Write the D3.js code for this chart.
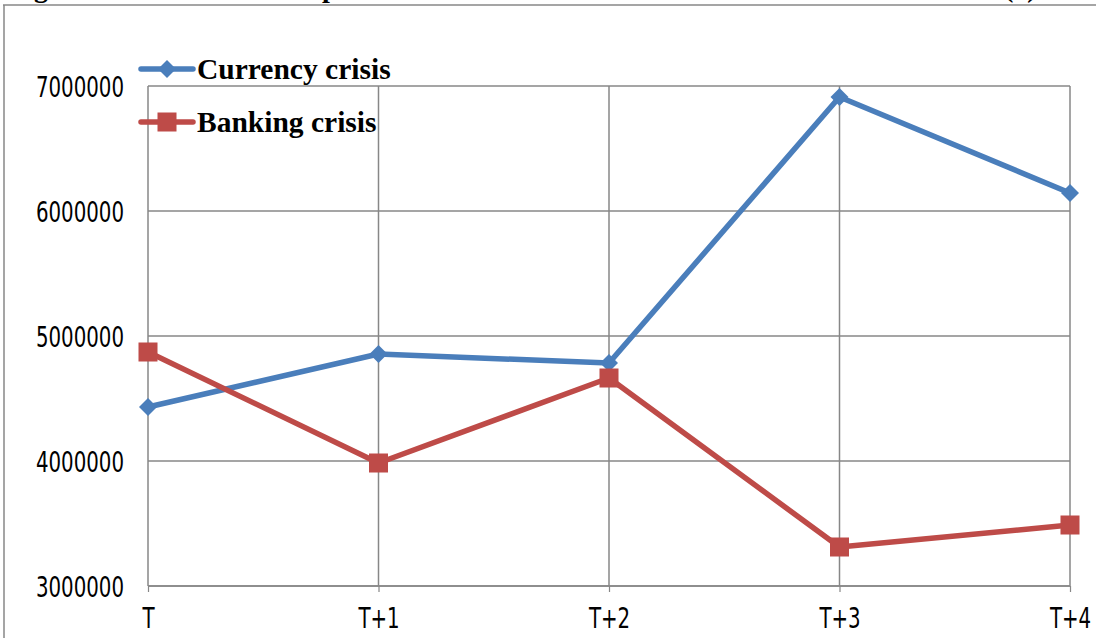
<!DOCTYPE html>
<html><head><meta charset="utf-8">
<script src="https://cdn.jsdelivr.net/npm/d3@7"></script>
<style>
html,body{margin:0;padding:0;background:#fff;}
svg{display:block;}
</style></head>
<body>
<svg id="chart" width="1096" height="638"></svg>
<script>
const categories = ["T", "T+1", "T+2", "T+3", "T+4"];
const currencyCrisis = [4432000, 4856000, 4784000, 6912000, 6144000];
const bankingCrisis = [4872000, 3984000, 4664000, 3312000, 3488000];
const yTicks = [3000000, 4000000, 5000000, 6000000, 7000000];
const seriesNames = ["Currency crisis", "Banking crisis"];

const svg = d3.select("#chart");
const W = 1096, H = 638;
const gridColor = "#878787";
const blue = "#4A7EBB", red = "#BE4B48";
const tickFont = "'Liberation Sans Narrow', 'Arial Narrow', 'DejaVu Sans Condensed', sans-serif";

// title fragments (cut off at the top of the picture, as in the reference)
const titleFrag = svg.append("g").attr("font-family", "'Liberation Serif', 'Times New Roman', serif")
  .attr("font-weight", "bold").attr("font-size", 28).attr("fill", "#000");
titleFrag.append("text").attr("x", 34).attr("y", -3).text("g");
titleFrag.append("text").attr("x", 322).attr("y", -3).text("p");
titleFrag.append("text").attr("x", 1004).attr("y", -3).text("(€)");

// outer frame
svg.append("line").attr("x1", 3).attr("x2", W).attr("y1", 5).attr("y2", 5)
  .attr("stroke", gridColor).attr("stroke-width", 1.5);
svg.append("line").attr("x1", 4).attr("x2", 4).attr("y1", 5).attr("y2", H)
  .attr("stroke", gridColor).attr("stroke-width", 1.5);

const x = d3.scalePoint().domain(categories).range([148, 1070]);
const y = d3.scaleLinear().domain([3000000, 7000000]).range([586, 86]);

// horizontal gridlines
svg.append("g").selectAll("line").data(yTicks).join("line")
  .attr("x1", 148).attr("x2", 1070)
  .attr("y1", d => y(d)).attr("y2", d => y(d))
  .attr("stroke", gridColor).attr("stroke-width", 1.5);
// vertical gridlines
svg.append("g").selectAll("line").data(categories).join("line")
  .attr("x1", d => x(d)).attr("x2", d => x(d))
  .attr("y1", y(7000000)).attr("y2", y(3000000))
  .attr("stroke", gridColor).attr("stroke-width", 1.5);

// axes
const yAxis = d3.axisLeft(y).tickValues(yTicks).tickSize(0).tickPadding(24).tickFormat(d3.format("d"));
const gy = svg.append("g").attr("transform", "translate(148,0)").call(yAxis);
gy.select(".domain").remove();
gy.selectAll("text").attr("font-family", tickFont)
  .attr("font-size", 22).attr("fill", "#000").attr("dy", "0.36em")
  .attr("transform", "scale(1,1.3)");

const xAxis = d3.axisBottom(x).tickSize(6).tickPadding(11);
const gx = svg.append("g").attr("transform", "translate(0,586)").call(xAxis);
gx.select(".domain").attr("stroke", gridColor).attr("stroke-width", 1.5).attr("d", "M148,0H1070");
gx.selectAll(".tick line").attr("stroke", gridColor).attr("stroke-width", 1.2);
gx.selectAll("text").attr("font-family", tickFont)
  .attr("font-size", 22).attr("fill", "#000").attr("dy", "0.71em")
  .attr("transform", "scale(1,1.3)");

// lines
const line = d3.line().x((d, i) => x(categories[i])).y(d => y(d));
svg.append("path").datum(currencyCrisis).attr("d", line)
  .attr("fill", "none").attr("stroke", blue).attr("stroke-width", 5.5).attr("stroke-linejoin", "round");
svg.append("path").datum(bankingCrisis).attr("d", line)
  .attr("fill", "none").attr("stroke", red).attr("stroke-width", 5.5).attr("stroke-linejoin", "round");

function diamondPath(s){ return `M0,${-s}L${s},0L0,${s}L${-s},0Z`; }
svg.append("g").selectAll("path").data(currencyCrisis).join("path")
  .attr("d", diamondPath(9))
  .attr("transform", (d, i) => `translate(${x(categories[i])},${y(d)})`)
  .attr("fill", blue);
svg.append("g").selectAll("rect").data(bankingCrisis).join("rect")
  .attr("x", (d, i) => x(categories[i]) - 9.5).attr("y", d => y(d) - 9.5)
  .attr("width", 19).attr("height", 19).attr("fill", red);

// legend
const legend = svg.append("g");
const legItems = [{name: seriesNames[0], color: blue, type: "diamond", yy: 69},
                  {name: seriesNames[1], color: red, type: "square", yy: 122}];
legItems.forEach(it => {
  legend.append("line").attr("x1", 141).attr("x2", 193).attr("y1", it.yy).attr("y2", it.yy)
    .attr("stroke", it.color).attr("stroke-width", 5.5).attr("stroke-linecap", "round");
  if (it.type === "diamond") {
    legend.append("path").attr("d", diamondPath(9)).attr("transform", `translate(167,${it.yy})`).attr("fill", it.color);
  } else {
    legend.append("rect").attr("x", 167 - 9.5).attr("y", it.yy - 9.5).attr("width", 19).attr("height", 19).attr("fill", it.color);
  }
  legend.append("text").attr("x", 197).attr("y", it.yy).attr("dy", "0.35em")
    .attr("font-family", "'Liberation Serif', 'Times New Roman', serif")
    .attr("font-weight", "bold").attr("font-size", 29.5).attr("fill", "#000").text(it.name);
});
</script>
</body></html>
